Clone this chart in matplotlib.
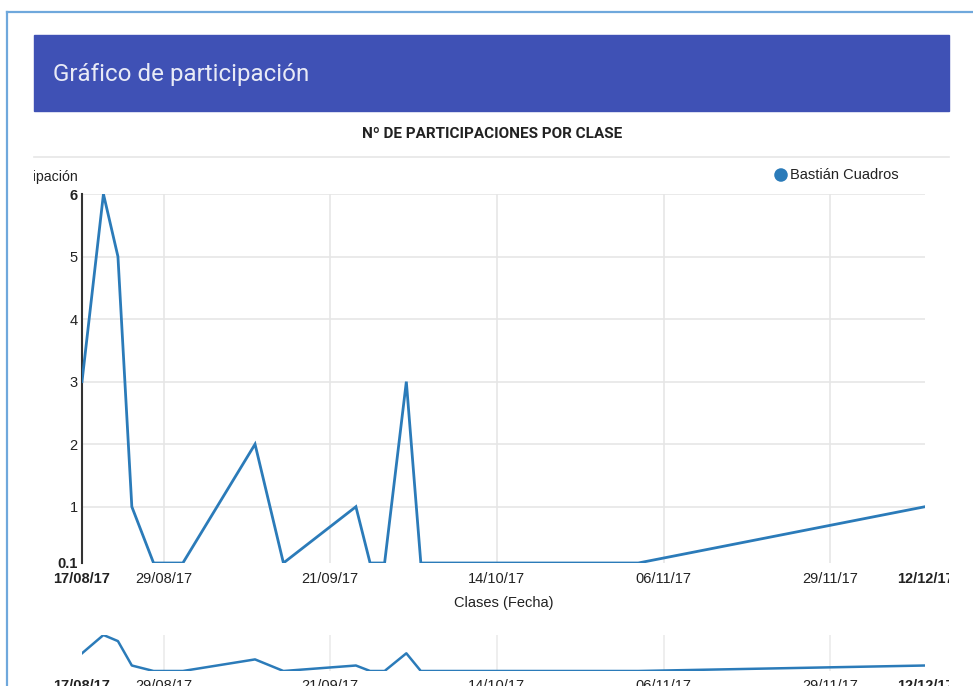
import matplotlib.pyplot as plt
import matplotlib.dates as mdates
from matplotlib.patches import Rectangle
from matplotlib.transforms import Bbox, TransformedBbox
import pandas as pd

# participaciones por clase
fechas = pd.to_datetime([
    "2017-08-17 18:00", "2017-08-20 17:00", "2017-08-22 17:00", "2017-08-24 15:00",
    "2017-08-27 15:00", "2017-08-31 16:00", "2017-09-10 15:00", "2017-09-14 13:00",
    "2017-09-24 13:00", "2017-09-26 12:00", "2017-09-28 12:00", "2017-10-01 12:00",
    "2017-10-03 12:00", "2017-11-02 12:00", "2017-12-12 01:30",
])
participaciones = [3, 6, 5, 1, 0.1, 0.1, 2, 0.1, 1, 0.1, 0.1, 3, 0.1, 0.1, 1]
alumno = "Bastián Cuadros"

fechas_ticks = pd.to_datetime(["2017-08-29", "2017-09-21", "2017-10-14",
                               "2017-11-06", "2017-11-29"])
y_ticks = [0.1, 1, 2, 3, 4, 5, 6]

W, H = 973, 686
azul = "#2b7bb9"
gris_grid = "#e6e6e6"
fuente = ["Liberation Sans", "DejaVu Sans"]

plt.rcParams['font.family'] = fuente
fig = plt.figure(figsize=(W / 100, H / 100), dpi=100)

def px(x0, y0, x1, y1):
    # rect in pixel coords (top-left origin) -> figure fraction
    return [x0 / W, 1 - y1 / H, (x1 - x0) / W, (y1 - y0) / H]

# page layer: card, header, separator
page = fig.add_axes([0, 0, 1, 1])
page.set_xlim(0, W)
page.set_ylim(H, 0)
page.axis('off')
page.plot([6.5, 6.5], [11.5, H], color="#6fa8dc", lw=1.6)
page.plot([6.5, W], [11.5, 11.5], color="#6fa8dc", lw=1.6)
page.add_patch(Rectangle((34, 35), 915, 76, color="#3f51b5"))
page.text(53, 75, "Gráfico de participación", color="#e8eaf6", fontsize=17.4,
          family="Roboto", va="center", ha="left")
page.text(492, 134, "Nº DE PARTICIPACIONES POR CLASE", color="#222222", fontsize=11,
          family="Roboto", fontweight="bold", ha="center", va="center")
page.plot([34, 949], [157, 157], color=gris_grid, lw=1.2)

clip = TransformedBbox(Bbox.from_extents(34 / W, 0, 949 / W, 1), fig.transFigure)
ylab = page.text(78, 177, "Nº de participación", fontsize=10.2, color="#222222",
                 ha="right", va="center")
ylab.set_clip_box(clip)
ylab.set_clip_on(True)

# legend
page.scatter([781], [175], s=95, color=azul, edgecolors="none")
page.text(790, 175, alumno, fontsize=10.5, color="#222222", va="center", ha="left")

x_min, x_max = fechas[0], fechas[-1]
fmt = mdates.DateFormatter("%d/%m/%y")
tick_pos = [x_min] + list(fechas_ticks) + [x_max]
tick_lab = [fmt(mdates.date2num(d)) for d in tick_pos]

def eje_x(ax, pad, grid_color):
    ax.set_xlim(x_min, x_max)
    ax.set_xticks(tick_pos)
    ax.set_xticklabels(tick_lab)
    ax.tick_params(axis="x", length=0, pad=pad, labelsize=10.5, labelcolor="#222222")
    for d in fechas_ticks:
        ax.axvline(d, color=grid_color, lw=1.2, zorder=0)
    labs = ax.get_xticklabels()
    for lbl in (labs[0], labs[-1]):
        lbl.set_fontweight("bold")
    for lbl in labs:
        lbl.set_clip_box(clip)
        lbl.set_clip_on(True)
    for s in ax.spines.values():
        s.set_visible(False)

# main chart
ax = fig.add_axes(px(82, 194, 925, 563))
ax.plot(fechas, participaciones, color=azul, lw=2, solid_joinstyle="miter", zorder=3)
ax.set_ylim(0.1, 6)
ax.set_yticks(y_ticks)
ax.set_yticklabels(["0.1", "1", "2", "3", "4", "5", "6"])
ax.tick_params(axis="y", length=0, pad=3, labelsize=10.5, labelcolor="#222222")
for y in y_ticks[1:]:
    ax.axhline(y, color=gris_grid, lw=1.2, zorder=0)
eje_x(ax, 6.5, gris_grid)
ylabs = ax.get_yticklabels()
ylabs[0].set_fontweight("bold")
ylabs[-1].set_fontweight("bold")
ax.spines["left"].set_visible(True)
ax.spines["left"].set_color("#333333")
ax.spines["left"].set_linewidth(1.5)
ax.set_xlabel("Clases (Fecha)", fontsize=10.5, color="#222222", labelpad=7)

# navigator
nav = fig.add_axes(px(82, 635, 925, 671))
nav.plot(fechas, participaciones, color=azul, lw=1.8, zorder=3)
nav.set_ylim(0.1, 6)
nav.set_yticks([])
eje_x(nav, 6, "#ebebeb")

fig.savefig("out.png", dpi=100)
